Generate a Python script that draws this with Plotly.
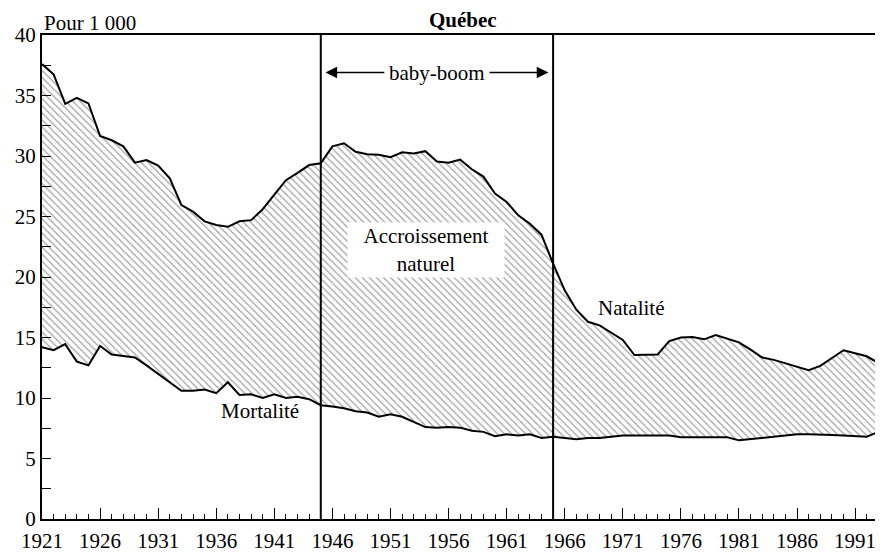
import plotly.graph_objects as go

years = list(range(1921, 1995))

natalite = [
    37.6, 36.75, 34.3, 34.8, 34.35, 31.65, 31.3, 30.8, 29.45, 29.67,
    29.2, 28.15, 25.95, 25.4, 24.6, 24.3, 24.15, 24.6, 24.7, 25.6,
    26.8, 28.0, 28.6, 29.25, 29.4, 30.8, 31.05, 30.35, 30.15, 30.1,
    29.9, 30.3, 30.2, 30.4, 29.55, 29.45, 29.7, 28.9, 28.3, 26.9,
    26.2, 25.1, 24.4, 23.5, 21.1, 18.9, 17.3, 16.3, 16.0, 15.4,
    14.8, 13.55, 13.55, 13.6, 14.7, 15.0, 15.05, 14.85, 15.2, 14.9,
    14.6, 14.0, 13.35, 13.15, 12.85, 12.6, 12.3, 12.65, 13.3, 13.95,
    13.7, 13.45, 12.9, 12.4,
]

mortalite = [
    14.2, 13.95, 14.45, 13.0, 12.7, 14.3, 13.6, 13.5, 13.35, 12.7,
    12.0, 11.35, 10.6, 10.6, 10.7, 10.4, 11.3, 10.25, 10.3, 10.0,
    10.3, 10.0, 10.1, 9.9, 9.4, 9.3, 9.15, 8.9, 8.8, 8.45,
    8.65, 8.45, 8.05, 7.6, 7.55, 7.6, 7.55, 7.3, 7.2, 6.85,
    7.0, 6.9, 7.0, 6.7, 6.8, 6.7, 6.6, 6.7, 6.7, 6.8,
    6.9, 6.9, 6.9, 6.9, 6.9, 6.75, 6.75, 6.75, 6.75, 6.75,
    6.5, 6.6, 6.7, 6.75, 6.85, 7.0, 7.0, 7.0, 6.95, 6.9,
    6.85, 6.8, 7.2, 7.3,
]

x_tick_vals = list(range(1921, 1992, 5))
x_tick_text = [str(v) for v in x_tick_vals]
y_tick_vals = [0, 5, 10, 15, 20, 25, 30, 35, 40]
y_tick_text = [str(v) for v in y_tick_vals]

boom_start, boom_end = 1945, 1965

FONT = "Liberation Serif, Times New Roman, DejaVu Serif, serif"
FS = 21

fig = go.Figure()
fig.add_trace(go.Scatter(
    x=years, y=mortalite, mode="lines",
    line=dict(color="black", width=2), showlegend=False,
))
fig.add_trace(go.Scatter(
    x=years, y=natalite, mode="lines",
    line=dict(color="black", width=2), showlegend=False,
    fill="tonexty", fillcolor="rgba(0,0,0,0)",
    fillpattern=dict(shape="\\", size=5, solidity=0.25,
                     fgcolor="#444444", bgcolor="white"),
))

for xv in (boom_start, boom_end):
    fig.add_shape(type="line", xref="x", yref="y", x0=xv, x1=xv, y0=0, y1=40,
                  line=dict(color="black", width=2))

# baby-boom arrows
ARROW_Y = 36.9
fig.add_annotation(x=boom_start + 0.4, y=ARROW_Y, ax=1950.6, ay=ARROW_Y,
                   xref="x", yref="y", axref="x", ayref="y",
                   text="", showarrow=True, arrowhead=2, arrowsize=1.8,
                   arrowwidth=1.3, arrowcolor="black")
fig.add_annotation(x=boom_end - 0.4, y=ARROW_Y, ax=1959.4, ay=ARROW_Y,
                   xref="x", yref="y", axref="x", ayref="y",
                   text="", showarrow=True, arrowhead=2, arrowsize=1.8,
                   arrowwidth=1.3, arrowcolor="black")
fig.add_annotation(x=(boom_start + boom_end) / 2, y=ARROW_Y, xref="x", yref="y",
                   text="baby-boom", showarrow=False,
                   font=dict(family=FONT, size=FS, color="black"))

fig.add_annotation(x=1954.1, y=22.2, xref="x", yref="y",
                   text="Accroissement<br>naturel", showarrow=False,
                   bgcolor="white", width=154, height=52,
                   font=dict(family=FONT, size=FS, color="black"))
fig.add_annotation(x=1971.7, y=17.4, xref="x", yref="y",
                   text="Natalité", showarrow=False,
                   font=dict(family=FONT, size=FS, color="black"))
fig.add_annotation(x=1939.8, y=8.95, xref="x", yref="y",
                   text="Mortalité", showarrow=False,
                   font=dict(family=FONT, size=FS, color="black"))

fig.add_annotation(x=0.5, y=1.032, xref="paper", yref="paper",
                   text="<b>Québec</b>", showarrow=False, yanchor="middle",
                   font=dict(family=FONT, size=FS, color="black"))
fig.add_annotation(x=0, y=1.0, xref="paper", yref="paper",
                   text="Pour 1 000", showarrow=False, xanchor="left",
                   yanchor="bottom", yshift=-2,
                   font=dict(family=FONT, size=FS, color="black"))

fig.update_xaxes(
    range=[1921, 1993.4], tickmode="array", tickvals=x_tick_vals,
    ticktext=x_tick_text, ticks="inside", ticklen=11, tickwidth=1.3,
    tickcolor="black", ticklabelstandoff=2,
    minor=dict(dtick=1, tick0=1921, ticks="inside", ticklen=5,
               tickwidth=1.3, tickcolor="black"),
    showline=True, linecolor="black", linewidth=2, mirror=True,
    showgrid=False, zeroline=False,
    tickfont=dict(family=FONT, size=FS, color="black"),
)
fig.update_yaxes(
    range=[0, 40], tickmode="array", tickvals=y_tick_vals,
    ticktext=y_tick_text, ticks="inside", ticklen=9, tickwidth=1.3,
    tickcolor="black",
    minor=dict(dtick=2.5, tick0=0, ticks="inside", ticklen=9,
               tickwidth=1.3, tickcolor="black"),
    showline=True, linecolor="black", linewidth=2,
    showgrid=False, zeroline=False,
    tickfont=dict(family=FONT, size=FS, color="black"),
)

# the page body adds an 8 px offset, so the figure is sized to fit the window
fig.update_layout(
    width=875, height=546,
    margin=dict(l=34, r=0, t=27, b=35),
    plot_bgcolor="white", paper_bgcolor="white",
    font=dict(family=FONT, size=FS, color="black"),
    showlegend=False,
)

fig.write_html("out.html")
